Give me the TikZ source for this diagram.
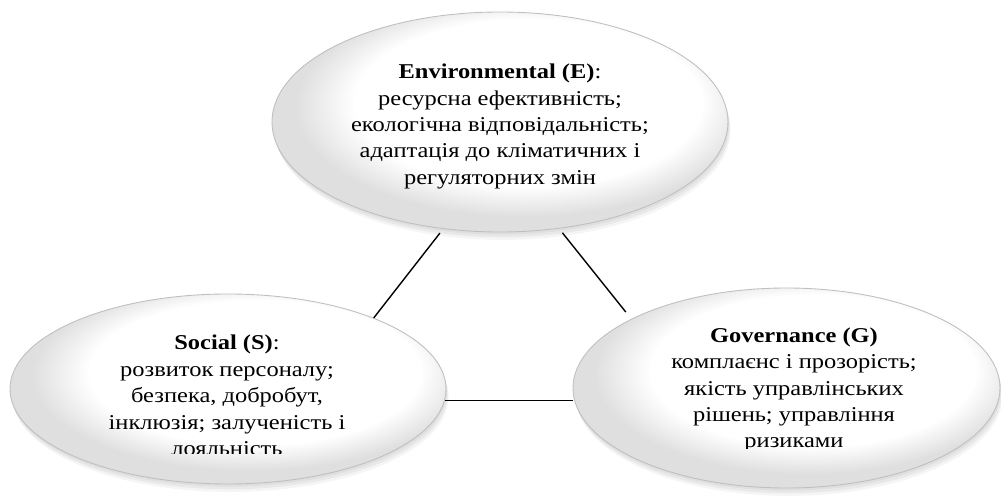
\documentclass[tikz,border=0pt]{standalone}
\usepackage{fontspec}
\setmainfont[FakeStretch=1.16]{Liberation Serif}
\usetikzlibrary{shapes.geometric,shadows}
\pgfdeclareradialshading{esgglow}{\pgfpoint{5bp}{7bp}}{color(0bp)=(white); color(19bp)=(white); color(25bp)=(gray!25); color(50bp)=(gray!25)}
\tikzset{
  esgbox/.style={ellipse, draw=gray!50, line width=0.5pt, shading=esgglow,
    drop shadow={opacity=0.1, shadow xshift=0.5pt, shadow yshift=-1.5pt},
    drop shadow={opacity=0.1, shadow xshift=1pt, shadow yshift=-3pt},
    drop shadow={opacity=0.08, shadow xshift=1.5pt, shadow yshift=-4.5pt}},
  esgtext/.style={align=center, inner sep=0pt, font=\fontsize{12}{15}\selectfont},
  esgline/.style={line width=0.8pt}
}
\begin{document}
\begin{tikzpicture}
  \useasboundingbox (0,0) rectangle (20.02,9.98);
  \node[esgbox, minimum width=9.12cm, minimum height=4.4cm] (E) at (10.0,7.54) {};
  \node[esgbox, minimum width=8.72cm, minimum height=3.8cm] (S) at (4.56,2.2) {};
  \node[esgbox, minimum width=8.54cm, minimum height=4.0cm] (G) at (15.73,2.22) {};
  \node[esgtext] (Etext) at (10.0,7.45) {\textbf{Environmental (E)}:\\ ресурсна ефективність;\\ екологічна відповідальність;\\ адаптація до кліматичних і\\ регуляторних змін};
  \begin{scope}
    \clip (0,0.92) rectangle (9.5,5);
    \node[esgtext] (Stext) at (4.54,2.07) {\textbf{Social (S)}:\\ розвиток персоналу;\\ безпека, добробут,\\ інклюзія; залученість і\\ лояльність};
  \end{scope}
  \begin{scope}
    \clip (11,1.02) rectangle (20.02,5);
    \node[esgtext] (Gtext) at (15.88,2.18) {\textbf{Governance (G)}\\ комплаєнс і прозорість;\\ якість управлінських\\ рішень; управління\\ ризиками};
  \end{scope}
  \draw[esgline, shorten <=3pt] (E.242) -- (S.26);
  \draw[esgline, shorten <=3pt, shorten >=5pt] (E.299) -- (G.156);
  \draw[esgline] (S.357) -- (S.357 -| G.west);
\end{tikzpicture}
\end{document}
